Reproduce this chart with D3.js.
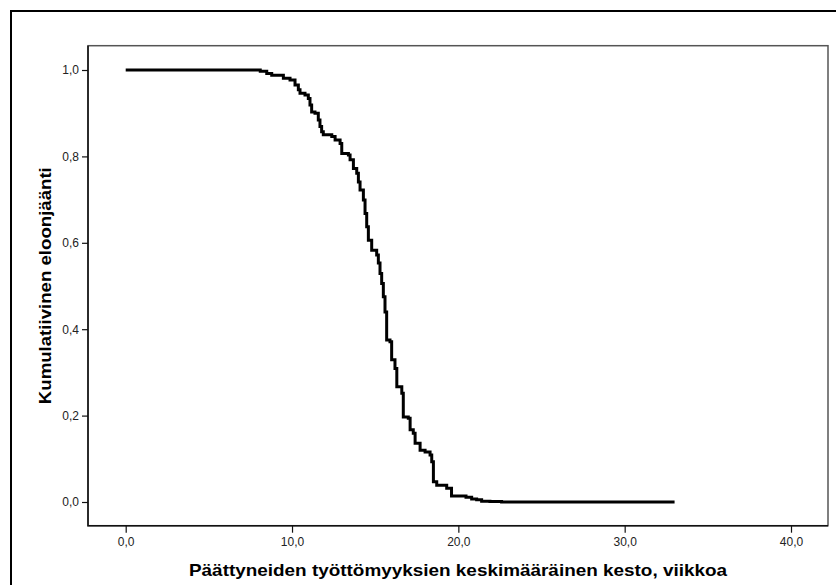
<!DOCTYPE html>
<html>
<head>
<meta charset="utf-8">
<script src="https://cdn.jsdelivr.net/npm/d3@7"></script>
<style>
  body { margin: 0; background: #fff; }
  text { font-family: "Liberation Sans", Arial, sans-serif; }
</style>
</head>
<body>
<svg id="vis" width="836" height="585"></svg>
<script>
// survival curve: time (weeks) where the step starts, and survival after it
var times = [0, 8.09, 8.48, 8.78, 9.48, 9.88, 10.18, 10.38, 10.48, 10.78, 10.98, 11.08, 11.18, 11.38, 11.58, 11.68,
    11.78, 11.88, 12.39, 12.59, 12.89, 12.99, 13.39, 13.49, 13.69, 13.89, 13.99, 14.09, 14.29, 14.39, 14.49, 14.59,
    14.79, 15.09, 15.19, 15.29, 15.39, 15.49, 15.59, 15.69, 15.89, 15.99, 16.19, 16.30, 16.60, 16.69, 16.99, 17.10,
    17.29, 17.40, 17.70, 18.00, 18.30, 18.40, 18.50, 18.70, 19.30, 19.59, 20.46, 20.80, 21.10, 21.40, 21.90, 22.60, 33.0];
var survival = [1.0, 0.997, 0.992, 0.988, 0.981, 0.977, 0.965, 0.954, 0.946, 0.942, 0.934, 0.919, 0.903, 0.900, 0.884, 0.869,
    0.857, 0.850, 0.846, 0.838, 0.830, 0.807, 0.803, 0.792, 0.772, 0.761, 0.741, 0.722, 0.699, 0.668, 0.637, 0.606,
    0.583, 0.572, 0.553, 0.529, 0.506, 0.475, 0.440, 0.375, 0.371, 0.329, 0.309, 0.267, 0.252, 0.197, 0.194, 0.167,
    0.159, 0.136, 0.120, 0.116, 0.109, 0.093, 0.047, 0.039, 0.032, 0.014, 0.011, 0.007, 0.005, 0.002, 0.001, 0.0, 0.0];

var xTicks = [0, 10, 20, 30, 40];
var yTicks = [0, 0.2, 0.4, 0.6, 0.8, 1.0];

var svg = d3.select('#vis');

//plot frame
var frame = {l: 88, t: 45.7, r: 828, b: 525.7};

var x = d3.scaleLinear().domain([0, 40]).range([125.7, 791]);
var y = d3.scaleLinear().domain([0, 1]).range([502, 70]);

var fmt = function(d){ return d3.format('.1f')(d).replace('.', ','); };

//outer border (only left and top visible)
svg.append('path')
    .attr('d', 'M11,585V11H836')
    .attr('fill', 'none')
    .attr('stroke', '#000')
    .attr('stroke-width', 2);

svg.append('rect')
    .attr('x', frame.l)
    .attr('y', frame.t)
    .attr('width', frame.r - frame.l)
    .attr('height', frame.b - frame.t)
    .attr('fill', 'none')
    .attr('stroke', '#555')
    .attr('stroke-width', 1.5);

svg.append('path')
    .attr('d', 'M' + frame.l + ',' + frame.t + 'V' + frame.b + 'H' + frame.r)
    .attr('fill', 'none')
    .attr('stroke', '#111')
    .attr('stroke-width', 1.5);

//axes
var xAxis = svg.append('g')
    .attr('class', 'axis axis--x')
    .attr('transform', 'translate(0,' + frame.b + ')')
    .call(d3.axisBottom(x).tickValues(xTicks).tickFormat(fmt).tickSize(7).tickPadding(5));

var yAxis = svg.append('g')
    .attr('class', 'axis axis--y')
    .attr('transform', 'translate(' + frame.l + ',0)')
    .call(d3.axisLeft(y).tickValues(yTicks).tickFormat(fmt).tickSize(6).tickPadding(3));

svg.selectAll('.axis .domain').remove();
svg.selectAll('.axis line').attr('stroke', '#111').attr('stroke-width', 1.2);
svg.selectAll('.axis text')
    .attr('fill', '#222')
    .style('font-size', '12px')
    .style('font-family', '"Liberation Sans", Arial, sans-serif');

//axis titles
svg.append('text')
    .attr('x', (frame.l + frame.r) / 2)
    .attr('y', 576)
    .attr('textLength', 538)
    .attr('lengthAdjust', 'spacingAndGlyphs')
    .style('text-anchor', 'middle')
    .style('font-size', '16.5px')
    .style('font-weight', 'bold')
    .attr('fill', '#000')
    .text('Päättyneiden työttömyyksien keskimääräinen kesto, viikkoa');

svg.append('text')
    .attr('transform', 'translate(51,' + ((frame.t + frame.b) / 2) + ') rotate(-90)')
    .attr('textLength', 237)
    .attr('lengthAdjust', 'spacingAndGlyphs')
    .style('text-anchor', 'middle')
    .style('font-size', '16.5px')
    .style('font-weight', 'bold')
    .attr('fill', '#000')
    .text('Kumulatiivinen eloonjäänti');

//survival curve
var pts = times.map(function(t, i){ return [t, survival[i]]; });

var line = d3.line()
    .x(function(d){ return x(d[0]); })
    .y(function(d){ return y(d[1]); })
    .curve(d3.curveStepAfter);

svg.append('path')
    .datum(pts)
    .attr('d', line)
    .attr('fill', 'none')
    .attr('stroke', '#000')
    .attr('stroke-width', 3);
</script>
</body>
</html>
